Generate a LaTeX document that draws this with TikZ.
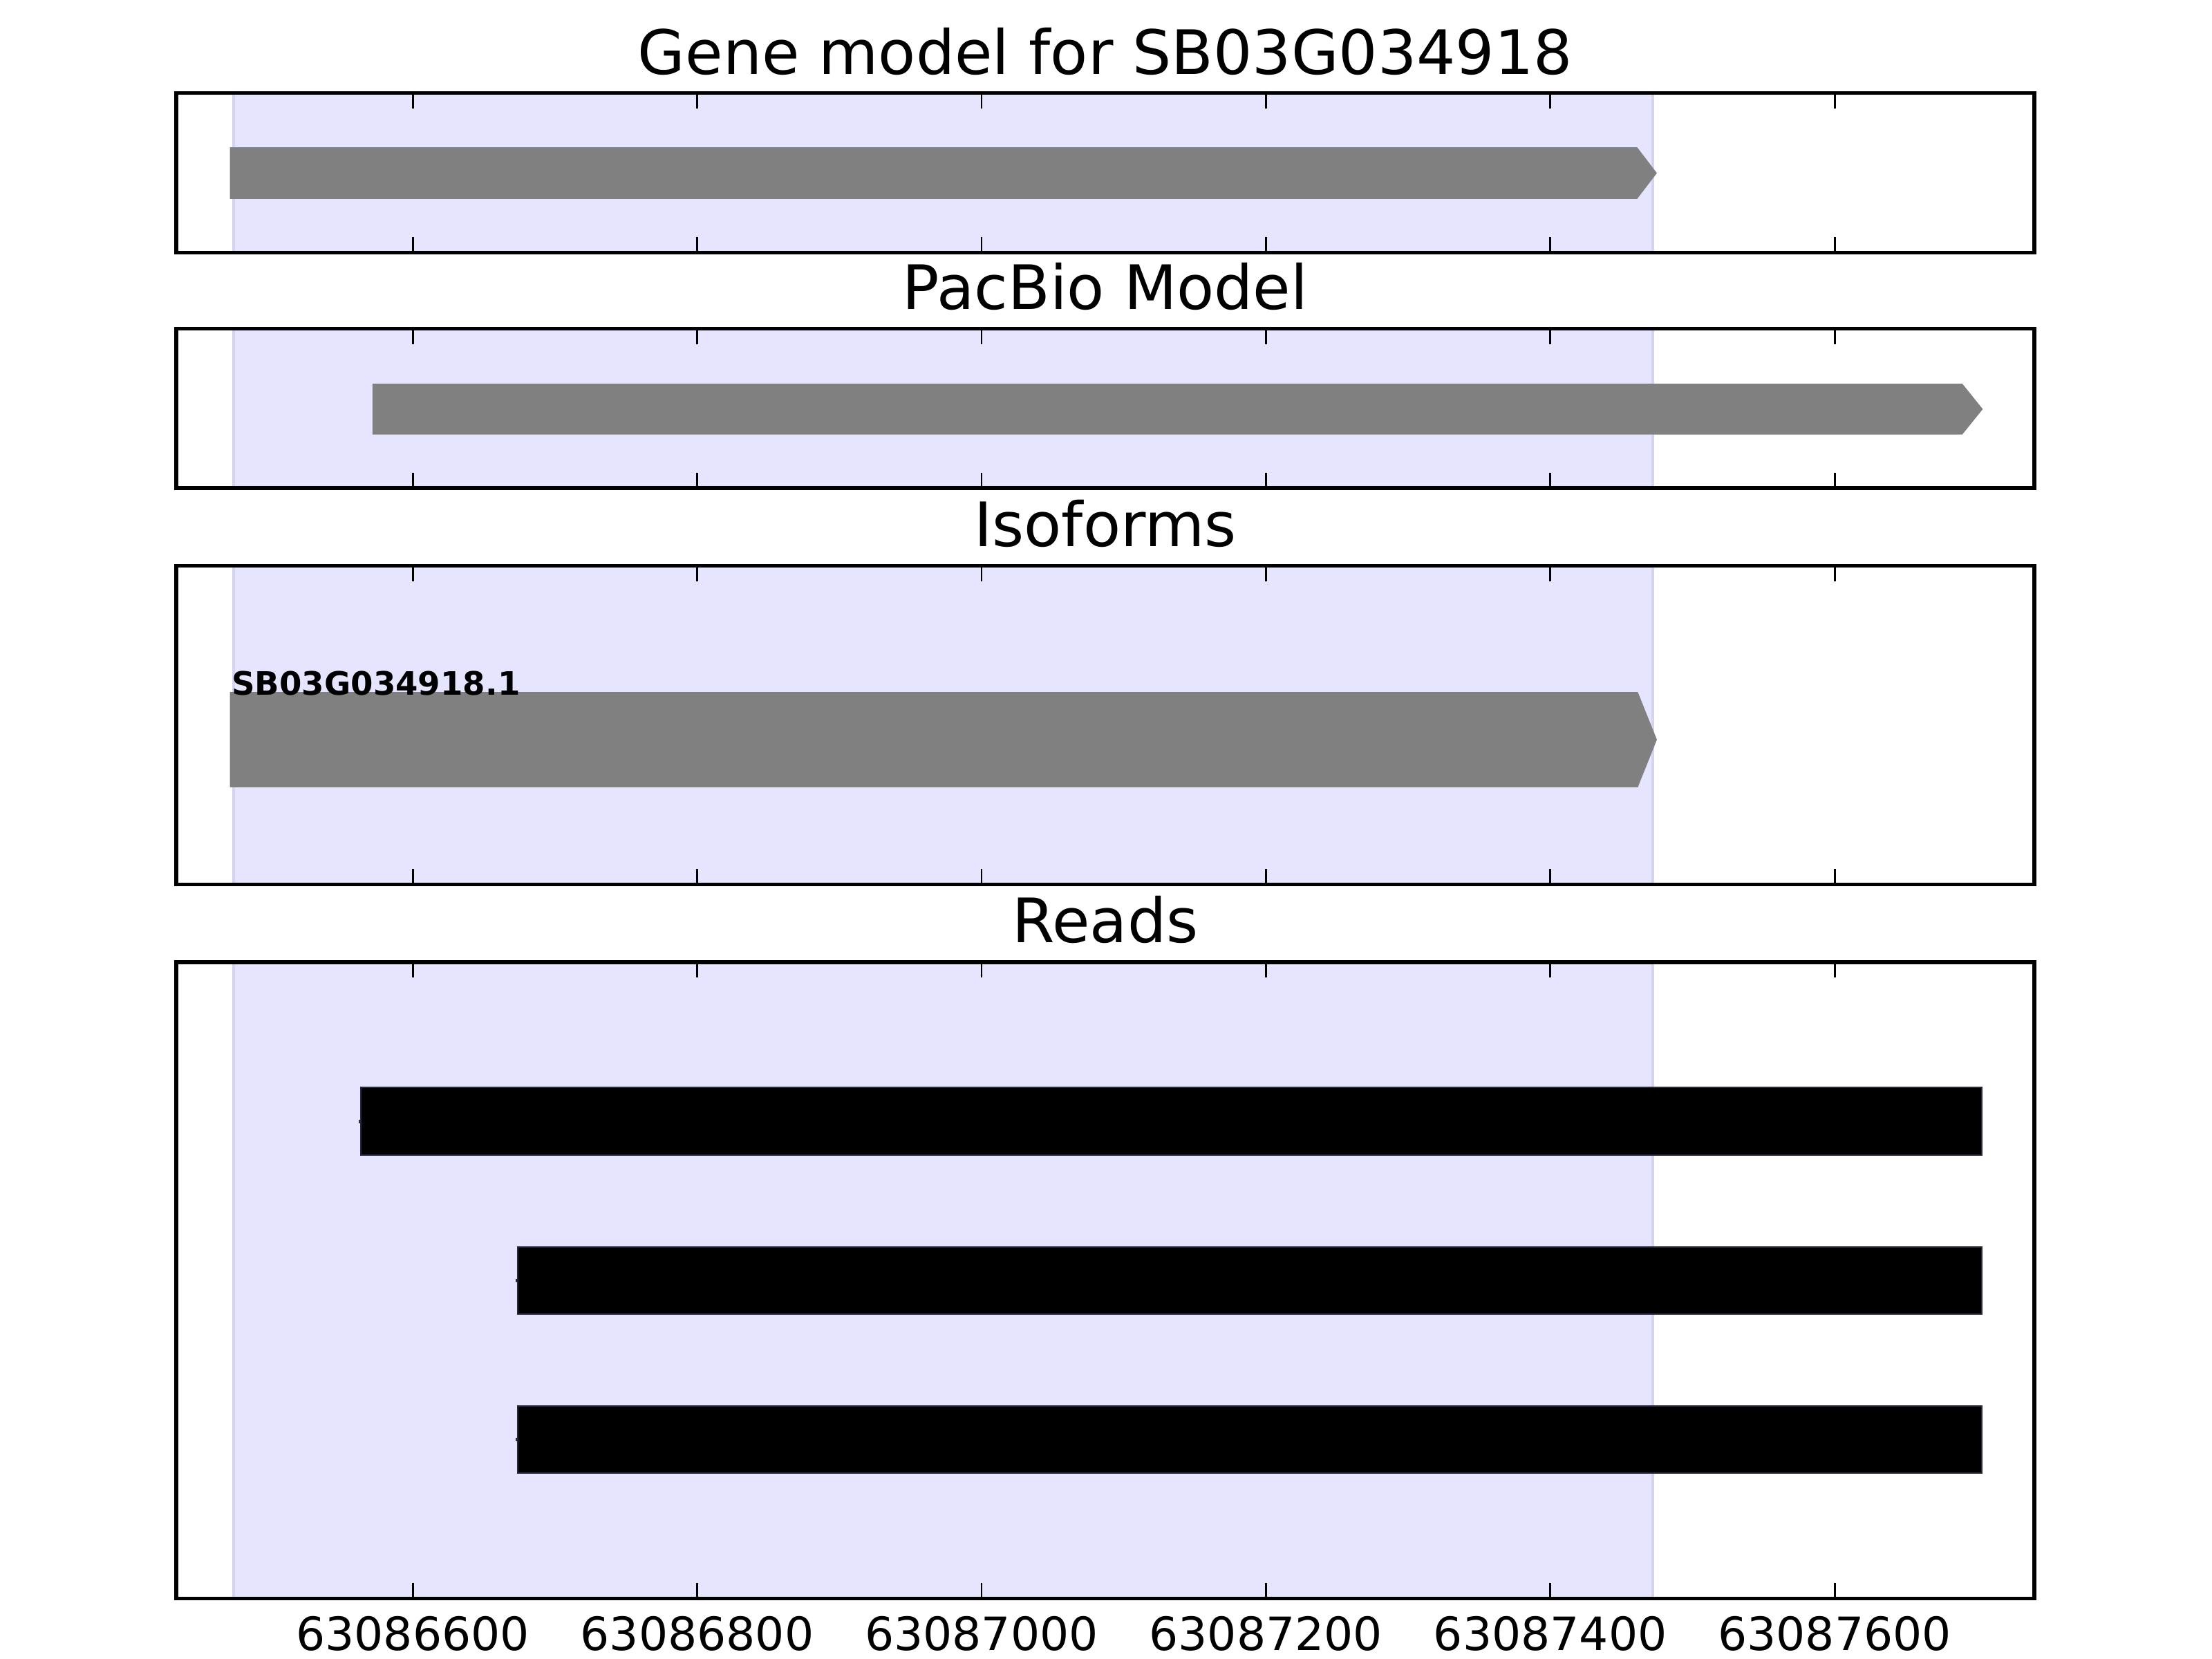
\documentclass[tikz,border=0pt]{standalone}
\usepackage{fontspec}
\setmainfont{DejaVu Sans}
\usepackage{tikz}
\definecolor{spanblue}{RGB}{229,229,255}
\definecolor{spanedge}{RGB}{212,212,238}
\definecolor{featgray}{RGB}{128,128,128}
\definecolor{readedge}{RGB}{40,40,60}

\begin{document}
\begin{tikzpicture}[
  x=0.02cm, y=-0.02cm,
  axbox/.style={draw=black, line width=1.54pt},
  tickmark/.style={draw=black, line width=0.77pt},
  genespan/.style={fill=spanblue, draw=spanedge, line width=1.2pt},
  feature/.style={fill=featgray},
  readbar/.style={fill=black, draw=readedge, line width=0.6pt},
  paneltitle/.style={anchor=base, inner sep=0pt, font=\fontsize{24.7}{28}\selectfont},
  ticklabel/.style={anchor=base, inner sep=0pt, font=\fontsize{18.5}{22}\selectfont}
]
\useasboundingbox (0,0) rectangle (1568,1176);

% ---- shaded gene span in every panel ----
\foreach \ya/\yb in {66/179, 233/346, 401/627, 682/1133}
  \draw[genespan] (165.5,\ya) rectangle (1171.5,\yb);

% ---- Panel 1: gene model ----
\fill[feature] (163,104.4) -- (1160.5,104.4) -- (1174.5,122.7) -- (1160.5,141) -- (163,141) -- cycle;
\node[paneltitle] (ttlgene) at (783.5,52.5) {Gene model for SB03G034918};

% ---- Panel 2: PacBio model ----
\fill[feature] (264,272) -- (1391,272) -- (1405.5,290) -- (1391,308) -- (264,308) -- cycle;
\node[paneltitle] (ttlpacbio) at (783.5,219.5) {PacBio Model};

% ---- Panel 3: isoforms ----
\fill[feature] (163,490.6) -- (1161,490.6) -- (1174.5,524.3) -- (1161,558) -- (163,558) -- cycle;
\node[anchor=base west, inner sep=0pt, font=\bfseries\fontsize{13}{15}\selectfont] (isolbl) at (164,492.5) {SB03G034918.1};
\node[paneltitle] (ttliso) at (783.5,387.5) {Isoforms};

% ---- Panel 4: reads ----
\foreach \xs/\ya/\yb in {255.8/770.8/818.8, 367/884/931.5, 367/996.7/1044} {
  \draw[readbar] (\xs,\ya) rectangle (1405,\yb);
  \draw[readedge, line width=0.05cm] ({\xs-1.6},{(\ya+\yb)/2}) -- (\xs,{(\ya+\yb)/2});
}
\node[paneltitle] (ttlreads) at (783.5,668) {Reads};

% ---- axes frames and ticks ----
\foreach \ya/\yb in {66/179, 233/346, 401/627, 682/1133} {
  \draw[axbox] (125,\ya) rectangle (1442,\yb);
  \foreach \i in {0,...,5} {
    \draw[tickmark] ({292.6+201.58*\i},\ya) -- ++(0,10.9);
    \draw[tickmark] ({292.6+201.58*\i},\yb) -- ++(0,-10.9);
  }
}

% x axis labels
\foreach \i/\lab in {0/63086600, 1/63086800, 2/63087000, 3/63087200, 4/63087400, 5/63087600}
  \node[ticklabel] (tick\i) at ({292.6+201.58*\i},1170) {\lab};
\end{tikzpicture}
\end{document}
